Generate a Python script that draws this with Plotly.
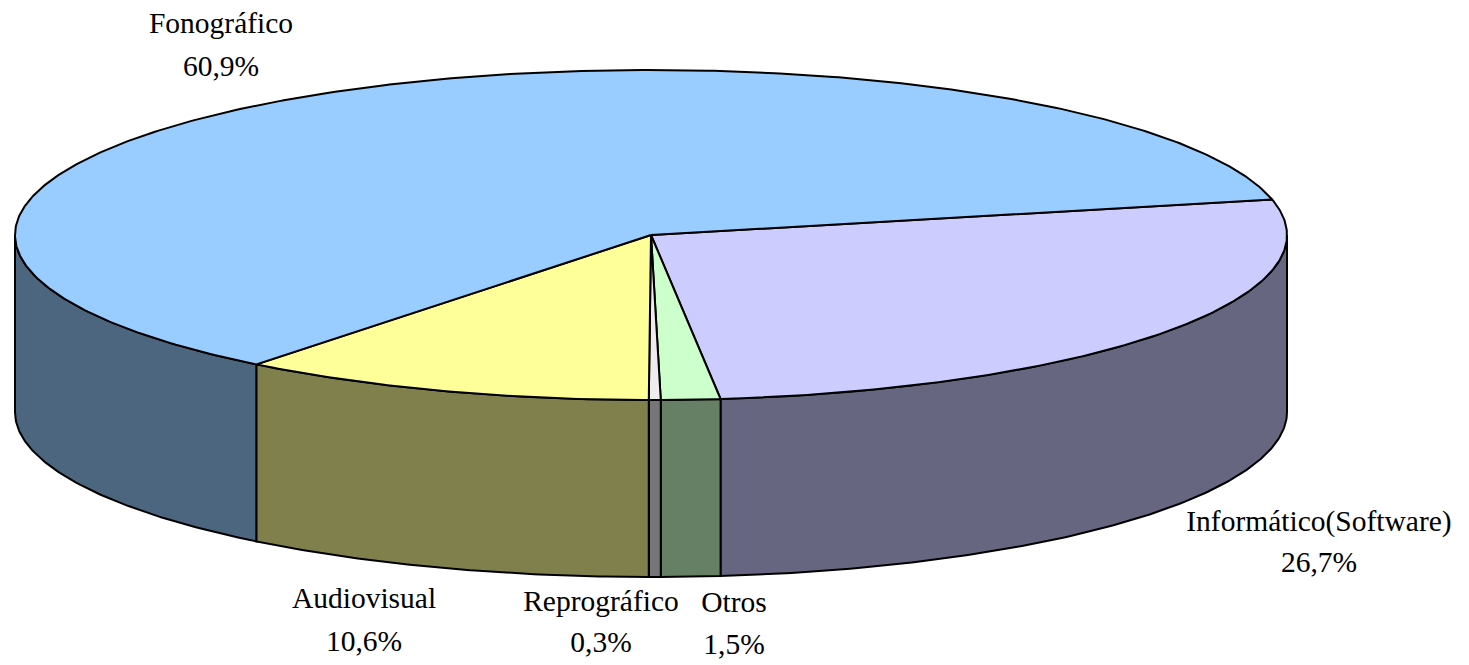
import numpy as np
import plotly.graph_objects as go

# Data, clockwise from the Fonográfico / Informático boundary
categories = ["Informático(Software)", "Otros", "Reprográfico", "Audiovisual", "Fonográfico"]
shares = [26.7, 1.5, 0.3, 10.6, 60.9]
share_labels = ["26,7%", "1,5%", "0,3%", "10,6%", "60,9%"]

# Styles
top_colors = ["#CCCCFF", "#CCFFCC", "#EDEDED", "#FFFF99", "#99CCFF"]
side_colors = ["#666680", "#668066", "#767676", "#80804D", "#4D6680"]

# Pie projection in page pixels
CX, CY, RX, RY, DEPTH = 651, 235, 636, 165, 177
START_DEG = 12.4
LINE = dict(color="black", width=2)
FONT = dict(family="Liberation Serif", size=29.5, color="black")

# Label anchors (centre x, y of name line, y of value line)
label_x = [1319, 734, 601, 364, 221]
name_y = [524, 605, 604, 601, 26]
value_y = [565, 647, 645, 644, 69]


def rim(a0, a1, dy=0.0):
    n = max(2, int(abs(a1 - a0) * 2) + 2)
    t = np.radians(np.linspace(a0, a1, n))
    return CX + RX * np.cos(t), CY - RY * np.sin(t) + dy


fig = go.Figure()
angles = START_DEG - np.cumsum([0] + [s * 3.6 for s in shares])

# Side walls: only the front half (180..360 degrees, i.e. sin < 0) is visible
for i in range(len(shares)):
    hi, lo = angles[i], angles[i + 1]
    for shift in (0, -360):
        a1, a0 = min(hi + shift, 0), max(lo + shift, -180)
        if a1 <= a0:
            continue
        x1, y1 = rim(a1, a0)
        x2, y2 = rim(a0, a1, DEPTH)
        fig.add_trace(go.Scatter(
            x=np.r_[x1, x2, x1[0]], y=np.r_[y1, y2, y1[0]], mode="lines",
            fill="toself", fillcolor=side_colors[i], line=LINE, hoverinfo="skip"))

# Top face
for i in range(len(shares)):
    x, y = rim(angles[i], angles[i + 1])
    fig.add_trace(go.Scatter(
        x=np.r_[CX, x, CX], y=np.r_[CY, y, CY], mode="lines",
        fill="toself", fillcolor=top_colors[i], line=LINE, hoverinfo="skip"))

# Labels
fig.add_trace(go.Scatter(
    x=label_x + label_x, y=name_y + value_y, mode="text",
    text=categories + share_labels, textposition="middle center",
    textfont=FONT, hoverinfo="skip"))

fig.update_layout(
    width=1469, height=665, margin=dict(l=0, r=0, t=0, b=0),
    paper_bgcolor="white", plot_bgcolor="white", showlegend=False,
    xaxis=dict(range=[0, 1469], visible=False, fixedrange=True),
    yaxis=dict(range=[665, 0], visible=False, fixedrange=True),
)
fig.write_html("out.html", config={"displayModeBar": False},
               post_script="document.body.style.margin='0';")
